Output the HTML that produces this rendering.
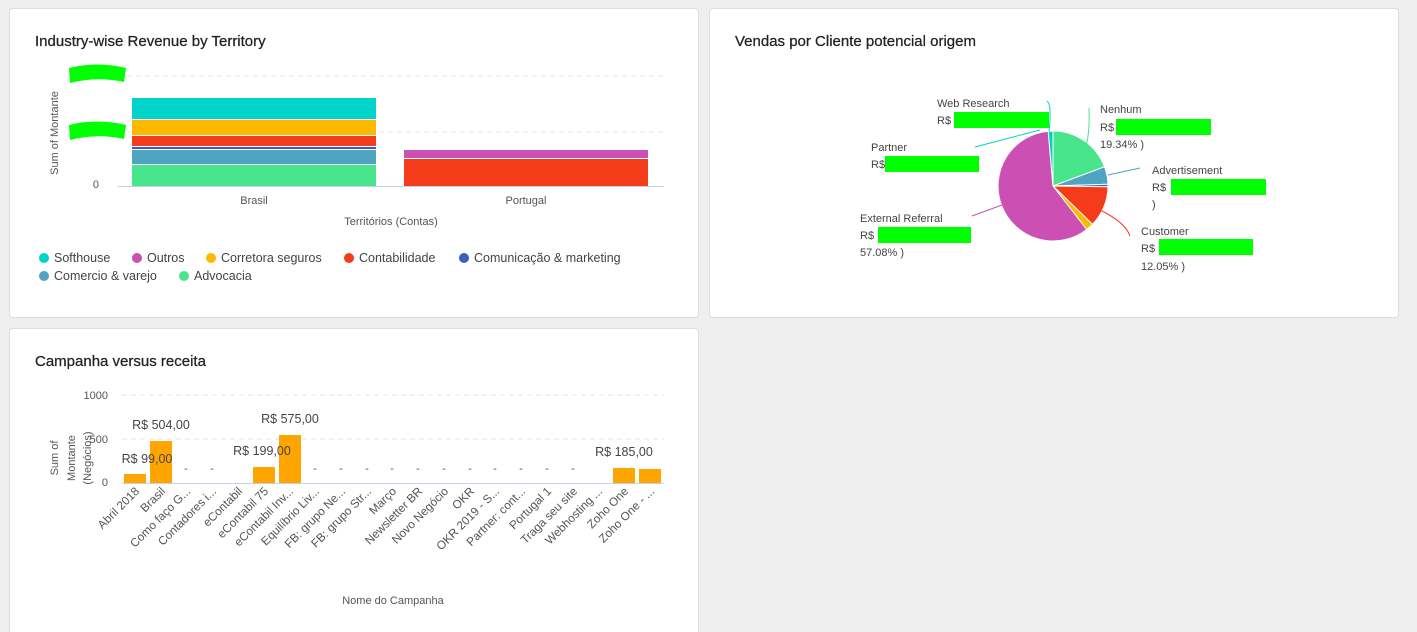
<!DOCTYPE html>
<html><head><meta charset="utf-8"><style>
html,body{margin:0;padding:0;background:#efefef;}
svg{display:block;font-family:"Liberation Sans",sans-serif;}
.t{font-size:15px;fill:#222;stroke:#222;stroke-width:0.25px;}
.s{font-size:12.5px;fill:#444;}
.a{font-size:11px;fill:#555;}
.r{font-size:11.8px;fill:#555;}
.l{font-size:11px;fill:#444;}
</style></head><body>
<svg width="1417" height="632" viewBox="0 0 1417 632">
<rect x="9.5" y="8.5" width="689" height="309" rx="3" fill="#fff" stroke="#ddd"/>
<rect x="709.5" y="8.5" width="689" height="309" rx="3" fill="#fff" stroke="#ddd"/>
<rect x="9.5" y="328.5" width="689" height="310" rx="3" fill="#fff" stroke="#ddd"/>

<!-- Chart 1 -->
<text x="35" y="46" class="t">Industry-wise Revenue by Territory</text>
<line x1="118" y1="76" x2="664" y2="76" stroke="#e4e4e4" stroke-dasharray="5,4"/>
<line x1="118" y1="132" x2="664" y2="132" stroke="#e4e4e4" stroke-dasharray="5,4"/>
<path d="M69,68 Q97,61 126,68 L124,82 Q97,76 70,83 Z" fill="#00ff00"/>
<path d="M69,125 Q97,118 126,125 L124,139 Q97,133 70,140 Z" fill="#00ff00"/>
<text x="99" y="188" class="a" text-anchor="end">0</text>
<text transform="translate(58,133) rotate(-90)" class="a" text-anchor="middle">Sum of Montante</text>
<rect x="132" y="165" width="244" height="21" fill="#48e58c"/>
<rect x="132" y="150" width="244" height="14" fill="#4ea4c1"/>
<rect x="132" y="147" width="244" height="2" fill="#3c5bc8"/>
<rect x="132" y="136" width="244" height="10" fill="#f53c1a"/>
<rect x="132" y="120" width="244" height="15" fill="#fdb900"/>
<rect x="132" y="98" width="244" height="21" fill="#00d3c9"/>
<rect x="404" y="159" width="244" height="27" fill="#f53c1a"/>
<rect x="404" y="150" width="244" height="8" fill="#cc4fb4"/>
<line x1="118" y1="186.5" x2="664" y2="186.5" stroke="#c8d0e8"/>
<text x="254" y="204" class="a" text-anchor="middle">Brasil</text>
<text x="526" y="204" class="a" text-anchor="middle">Portugal</text>
<text x="391" y="225" class="a" text-anchor="middle">Territórios (Contas)</text>
<g class="s">
<circle cx="44" cy="258" r="5" fill="#00d3c9"/><text x="54" y="262">Softhouse</text>
<circle cx="137" cy="258" r="5" fill="#cc4fb4"/><text x="147" y="262">Outros</text>
<circle cx="211" cy="258" r="5" fill="#fdb900"/><text x="221" y="262">Corretora seguros</text>
<circle cx="349" cy="258" r="5" fill="#f53c1a"/><text x="359" y="262">Contabilidade</text>
<circle cx="464" cy="258" r="5" fill="#3c5bc8"/><text x="474" y="262">Comunicação &amp; marketing</text>
<circle cx="44" cy="276" r="5" fill="#4ea4c1"/><text x="54" y="280">Comercio &amp; varejo</text>
<circle cx="184" cy="276" r="5" fill="#48e58c"/><text x="194" y="280">Advocacia</text>
</g>

<!-- Chart 2 pie -->
<text x="735" y="46" class="t">Vendas por Cliente potencial origem</text>
<g stroke="#fff" stroke-width="1">
<path d="M1053,186 L1053,131 A55,55 0 0 1 1104.5,166.8 Z" fill="#48e58c"/>
<path d="M1053,186 L1104.5,166.8 A55,55 0 0 1 1108,184.3 Z" fill="#4ea4c1"/>
<path d="M1053,186 L1108,184.3 A55,55 0 0 1 1108,186.7 Z" fill="#3c5bc8"/>
<path d="M1053,186 L1108,186.7 A55,55 0 0 1 1092.5,224.3 Z" fill="#f53c1a"/>
<path d="M1053,186 L1092.5,224.3 A55,55 0 0 1 1086.7,229.5 Z" fill="#fdb900"/>
<path d="M1053,186 L1086.7,229.5 A55,55 0 1 1 1048.2,131.2 Z" fill="#cc4fb4"/>
<path d="M1053,186 L1048.2,131.2 A55,55 0 0 1 1053,131 Z" fill="#00d3c9"/>
</g>
<g fill="none" stroke-width="1">
<path d="M1085,150 Q1090,135 1089,108" stroke="#48e58c"/>
<path d="M1108,175 L1140,168" stroke="#4ea4c1"/>
<path d="M1100,210 Q1125,222 1130,236" stroke="#f53c1a"/>
<path d="M1002,205 L972,216" stroke="#cc4fb4"/>
<path d="M1049,131 Q1052,105 1047,101" stroke="#00d3c9"/>
<path d="M1040,130 L975,147" stroke="#00d3c9"/>
</g>
<g class="l">
<text x="937" y="107">Web Research</text><text x="937" y="124">R$</text>
<rect x="954" y="112" width="95" height="16" fill="#00ff00"/>
<text x="871" y="151">Partner</text><text x="871" y="168">R$</text>
<rect x="885" y="156" width="94" height="16" fill="#00ff00"/>
<text x="860" y="222">External Referral</text><text x="860" y="239">R$</text>
<rect x="878" y="227" width="93" height="16" fill="#00ff00"/>
<text x="860" y="256">57.08% )</text>
<text x="1100" y="113">Nenhum</text><text x="1100" y="131">R$</text>
<rect x="1116" y="119" width="95" height="16" fill="#00ff00"/>
<text x="1100" y="148">19.34% )</text>
<text x="1152" y="174">Advertisement</text><text x="1152" y="191">R$</text>
<rect x="1171" y="179" width="95" height="16" fill="#00ff00"/>
<text x="1152" y="208">)</text>
<text x="1141" y="235">Customer</text><text x="1141" y="252">R$</text>
<rect x="1159" y="239" width="94" height="16" fill="#00ff00"/>
<text x="1141" y="270">12.05% )</text>
</g>

<!-- Chart 3 -->
<text x="35" y="366" class="t">Campanha versus receita</text>
<line x1="122" y1="395" x2="664" y2="395" stroke="#e4e4e4" stroke-dasharray="5,4"/>
<line x1="122" y1="439" x2="664" y2="439" stroke="#e4e4e4" stroke-dasharray="5,4"/>
<text x="108" y="399" class="a" text-anchor="end">1000</text>
<text x="108" y="443" class="a" text-anchor="end">500</text>
<text x="108" y="486" class="a" text-anchor="end">0</text>
<g class="a" text-anchor="middle">
<text transform="translate(58,458) rotate(-90)">Sum of</text>
<text transform="translate(75,458) rotate(-90)">Montante</text>
<text transform="translate(91,458) rotate(-90)">(Negócios)</text>
</g>
<g fill="#ffa500">
<rect x="124" y="474" width="22" height="9"/>
<rect x="150" y="441" width="22" height="42"/>
<rect x="253" y="467" width="22" height="16"/>
<rect x="279" y="435" width="22" height="48"/>
<rect x="613" y="468" width="22" height="15"/>
<rect x="639" y="469" width="22" height="14"/>
</g>
<line x1="122" y1="483.5" x2="664" y2="483.5" stroke="#c8d0e8"/>
<g class="s" text-anchor="middle">
<text x="147" y="463">R$ 99,00</text>
<text x="161" y="429">R$ 504,00</text>
<text x="262" y="455">R$ 199,00</text>
<text x="290" y="423">R$ 575,00</text>
<text x="624" y="456">R$ 185,00</text>
</g>
<g class="a" text-anchor="middle">
<text x="186" y="472">-</text><text x="212" y="472">-</text>
<text x="315" y="472">-</text><text x="341" y="472">-</text><text x="367" y="472">-</text><text x="392" y="472">-</text><text x="418" y="472">-</text><text x="444" y="472">-</text><text x="470" y="472">-</text><text x="495" y="472">-</text><text x="521" y="472">-</text><text x="547" y="472">-</text><text x="573" y="472">-</text>
</g>
<g class="r" text-anchor="end">
<text transform="translate(140,492) rotate(-45)">Abril 2018</text>
<text transform="translate(166,492) rotate(-45)">Brasil</text>
<text transform="translate(191,492) rotate(-45)">Como faço G...</text>
<text transform="translate(217,492) rotate(-45)">Contadores i...</text>
<text transform="translate(243,492) rotate(-45)">eContabil</text>
<text transform="translate(269,492) rotate(-45)">eContabil 75</text>
<text transform="translate(294,492) rotate(-45)">eContabil Inv...</text>
<text transform="translate(320,492) rotate(-45)">Equilíbrio Liv...</text>
<text transform="translate(346,492) rotate(-45)">FB: grupo Ne...</text>
<text transform="translate(372,492) rotate(-45)">FB: grupo Str...</text>
<text transform="translate(397,492) rotate(-45)">Março</text>
<text transform="translate(423,492) rotate(-45)">Newsletter BR</text>
<text transform="translate(449,492) rotate(-45)">Novo Negócio</text>
<text transform="translate(475,492) rotate(-45)">OKR</text>
<text transform="translate(500,492) rotate(-45)">OKR 2019 - S...</text>
<text transform="translate(526,492) rotate(-45)">Partner: cont...</text>
<text transform="translate(552,492) rotate(-45)">Portugal 1</text>
<text transform="translate(578,492) rotate(-45)">Traga seu site</text>
<text transform="translate(603,492) rotate(-45)">Webhosting ...</text>
<text transform="translate(629,492) rotate(-45)">Zoho One</text>
<text transform="translate(655,492) rotate(-45)">Zoho One - ...</text>
</g>
<text x="393" y="604" class="a" text-anchor="middle">Nome do Campanha</text>
</svg>
</body></html>
